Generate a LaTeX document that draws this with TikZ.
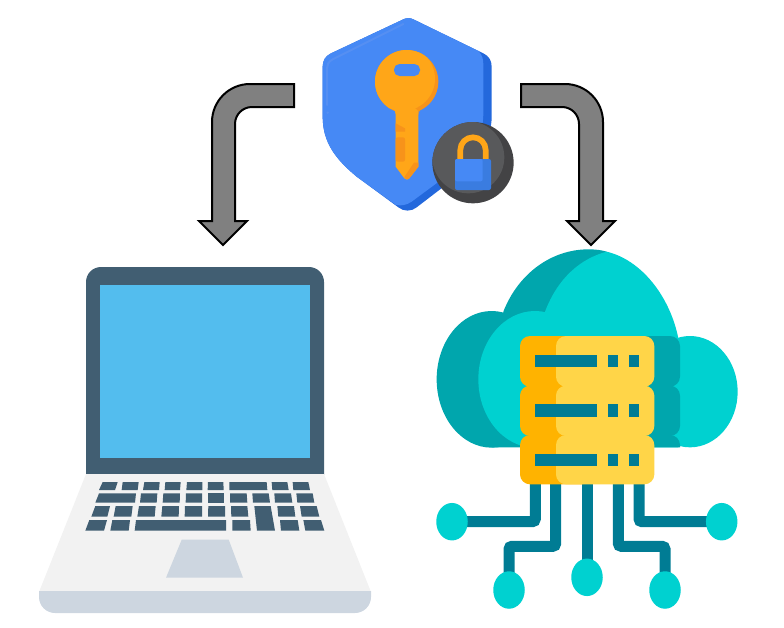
\documentclass[tikz,border=0pt]{standalone}
\usetikzlibrary{shapes.geometric,backgrounds}
\definecolor{shieldblue}{HTML}{4689F5}
\definecolor{shielddark}{HTML}{2368DC}
\definecolor{shieldlight}{HTML}{558FF2}
\definecolor{keyorange}{HTML}{FFA618}
\definecolor{keydark}{HTML}{F7931A}
\definecolor{lockdark}{HTML}{434345}
\definecolor{locklight}{HTML}{58595B}
\definecolor{lockblue}{HTML}{3A7CE0}
\definecolor{slate}{HTML}{415E72}
\definecolor{screenblue}{HTML}{53BDEE}
\definecolor{basegrey}{HTML}{F2F2F2}
\definecolor{bandgrey}{HTML}{CDD6E0}
\definecolor{cloudlight}{HTML}{00D1D0}
\definecolor{clouddark}{HTML}{00A6AD}
\definecolor{serverlight}{HTML}{FFD548}
\definecolor{serverdark}{HTML}{FFB300}
\definecolor{traceteal}{HTML}{007C94}
\tikzset{
    blockarrow/.style={fill=black!50, draw=black, line width=2pt, line join=miter},
    pad/.style={ellipse, fill=cloudlight, inner sep=0pt, minimum width=31.5pt, minimum height=37.5pt},
    trace/.style={draw=traceteal, line width=11pt, rounded corners=3pt},
    fine/.style={x=0.33333pt, y=-0.33333pt}
}
\begin{document}
\begin{tikzpicture}[x=1pt, y=-1pt]
    \useasboundingbox (0,0) rectangle (784,627);

    \draw[blockarrow] (294,84)--(250,84) arc[start angle=270, end angle=180, radius=38]
        --(212,221)--(199,221)--(223,245)--(247,221)--(235,221)--(235,124)
        arc[start angle=180, end angle=270, radius=17]--(294,107)--cycle;
    \draw[blockarrow] (521,84)--(565,84) arc[start angle=270, end angle=360, radius=38]
        --(603,221)--(615,221)--(591,245)--(567,221)--(579,221)--(579,124)
        arc[start angle=360, end angle=270, radius=17]--(521,107)--cycle;

    \begin{scope}[shift={(190,0)}, fine]
        \fill[shielddark] (640,58) .. controls (650,53) and (660,53) .. (670,58)--(880,160)
            .. controls (897,168) and (905,182) .. (905,200)--(905,350)
            .. controls (905,420) and (860,480) .. (800,530)--(680,622)
            .. controls (665,635) and (640,635) .. (625,622)--(500,530)
            .. controls (440,480) and (398,430) .. (398,350)--(398,200)
            .. controls (398,182) and (406,168) .. (423,160)--cycle;
        \fill[shieldblue] (640,58) .. controls (650,53) and (660,53) .. (670,58)--(865,153)
            .. controls (878,165) and (880,180) .. (880,195)--(880,340)
            .. controls (880,420) and (835,470) .. (780,520)--(665,605)
            .. controls (650,615) and (635,618) .. (618,615)--(500,530)
            .. controls (440,480) and (398,430) .. (398,350)--(398,200)
            .. controls (398,182) and (406,168) .. (423,160)--cycle;
        \draw[shieldlight, line width=2pt, line cap=round] (411,315)--(411,205)
            .. controls (411,195) and (415,185) .. (428,178)--(640,72);
        \fill[shieldlight] (413,338) circle[radius=4];

        \fill[keydark] (650,245) circle[radius=95];
        \begin{scope}
            \clip (650,245) circle[radius=95];
            \fill[keyorange] (638,236) circle[radius=97];
        \end{scope}
        \fill[keydark] (685,345) .. controls (685,335) and (690,328) .. (700,320)--(685,320)--cycle;
        \fill[keyorange] (608,325) .. controls (615,330) and (617,337) .. (617,345)--(617,500)--(643,535)
            .. controls (648,540) and (654,540) .. (658,535)--(685,500)--(685,333)--(672,322)--(640,310)--cycle;
        \fill[keydark] (643,531) .. controls (648,540) and (654,540) .. (658,535)--(685,500)--(685,488)--(672,488)--cycle;
        \fill[keydark] (617,370)--(645,385)--(645,395)--(617,395)--cycle;
        \fill[keydark, rounded corners=2pt] (617,412) rectangle (645,485);
        \fill[shieldblue, rounded corners=5.5pt] (612,192) rectangle (690,228);

        \fill[lockdark] (849,488) circle[radius=122];
        \begin{scope}
            \clip (849,488) circle[radius=122];
            \fill[locklight] (835,472) circle[radius=108];
        \end{scope}
        \draw[keyorange, line width=5.7pt] (811,480)--(811,450) arc[start angle=180, end angle=360, radius=38]--(887,480);
        \fill[lockblue, rounded corners=2pt] (795,477) rectangle (903,570);
        \fill[shieldblue, rounded corners=2pt] (795,477) rectangle (878,544);
    \end{scope}

    \fill[slate, rounded corners=15pt] (86,490)--(86,267)--(324,267)--(324,490)--cycle;
    \fill[basegrey] (86,474)--(324,474)--(371,592)--(39,592)--cycle;
    \fill[slate] (86,460) rectangle (324,474);
    \fill[screenblue] (100,285) rectangle (310,458);
    \fill[bandgrey] (39,591)--(371,591)--(371,597) arc[start angle=0, end angle=90, radius=16]
        --(55,613) arc[start angle=90, end angle=180, radius=16]--cycle;
    \fill[bandgrey] (181.7,539.7)--(228.7,539.7)--(243,577.7)--(166,577.7)--cycle;

    \begin{scope}[shift={(30,460)}, fine]
        \foreach \ta/\tb/\ba/\bb/\ya/\yb in {
            218/263/207/255/66/90, 278/326/275/323/66/90, 343/389/339/387/66/90, 406/452/404/450/66/90,
            471/517/469/517/66/90, 534/580/533/581/66/90, 598/710/598/712/66/90, 725/772/727/776/66/90,
            788/835/790/840/66/90,
            207/318/196/315/100/128, 333/382/330/380/100/128, 400/450/398/449/100/128, 468/516/467/516/100/128,
            533/582/533/582/100/128, 600/650/600/652/100/128, 667/716/669/720/100/128, 733/783/735/787/100/128,
            799/848/802/853/100/128,
            196/240/184/232/138/170, 257/308/251/304/138/170, 327/377/322/374/138/170, 397/447/394/446/138/170,
            465/516/464/516/138/170, 535/585/534/585/138/170, 603/652/604/655/138/170, 673/722/681/735/138/212,
            742/792/745/796/138/170, 810/860/815/868/138/170,
            178/231/166/222/180/212, 247/300/241/296/180/212, 318/588/314/588/180/212, 607/660/607/662/180/212,
            750/803/753/808/180/212, 820/873/826/883/180/212}
        {
            \fill[slate] (\ta,\ya)--(\tb,\ya)--(\bb,\yb)--(\ba,\yb)--cycle;
        }
    \end{scope}

    \begin{scope}[shift={(425,240)}, fine]
        \fill[clouddark] (200,418) ellipse[x radius=165, y radius=205];
        \fill[clouddark] (235,215) .. controls (280,100) and (380,28) .. (490,28)
            .. controls (510,28) and (530,30) .. (545,35)--(545,622)--(200,622)--cycle;
        \fill[cloudlight] (795,455) ellipse[x radius=143, y radius=167];
        \fill[cloudlight] (330,418) ellipse[x radius=170, y radius=205];
        \fill[cloudlight] (360,215) .. controls (400,110) and (470,55) .. (545,35)
            .. controls (650,60) and (735,170) .. (760,295)--(760,622)--(330,622)--cycle;
        \fill[clouddark, rounded corners=10pt] (600,288) rectangle (765,440);
        \fill[clouddark, rounded corners=10pt] (600,437) rectangle (765,588);
        \fill[clouddark] (600,622)--(600,585)--(735,585) arc[start angle=270, end angle=360, radius=30]--(765,622)--cycle;
        \foreach \ya/\yb in {288/440,437/588,585/733}
            \fill[serverdark, rounded corners=10pt] (285,\ya) rectangle (500,\yb);
        \foreach \ya/\yb in {288/440,437/588,585/733}
            \fill[serverlight, rounded corners=10pt] (393,\ya) rectangle (688,\yb);
        \foreach \ya/\yb in {344/381,493/530,642/679}
        {
            \fill[traceteal] (330,\ya) rectangle (517,\yb);
            \fill[traceteal] (549,\ya) rectangle (580,\yb);
            \fill[traceteal] (611,\ya) rectangle (642,\yb);
        }
    \end{scope}

    \coordinate (chipa) at (535.3,483);
    \coordinate (chipb) at (555.7,483);
    \coordinate (chipc) at (587,483);
    \coordinate (chipd) at (618.3,483);
    \coordinate (chipe) at (639,483);
    \node[pad] (padleft) at (452,521.7) {};
    \node[pad] (padright) at (721.7,521.7) {};
    \node[pad] (padlow) at (509,590) {};
    \node[pad] (padmid) at (587,577.3) {};
    \node[pad] (padhigh) at (665,590) {};
    \begin{scope}[on background layer]
        \draw[trace] (chipa) |- (padleft.center);
        \draw[trace] (chipe) |- (padright.center);
        \draw[trace] (chipb)--(555.7,546.3)--(509,546.3)--(padlow.center);
        \draw[trace] (chipc)--(padmid.center);
        \draw[trace] (chipd)--(618.3,546.3)--(665,546.3)--(padhigh.center);
    \end{scope}
\end{tikzpicture}
\end{document}
